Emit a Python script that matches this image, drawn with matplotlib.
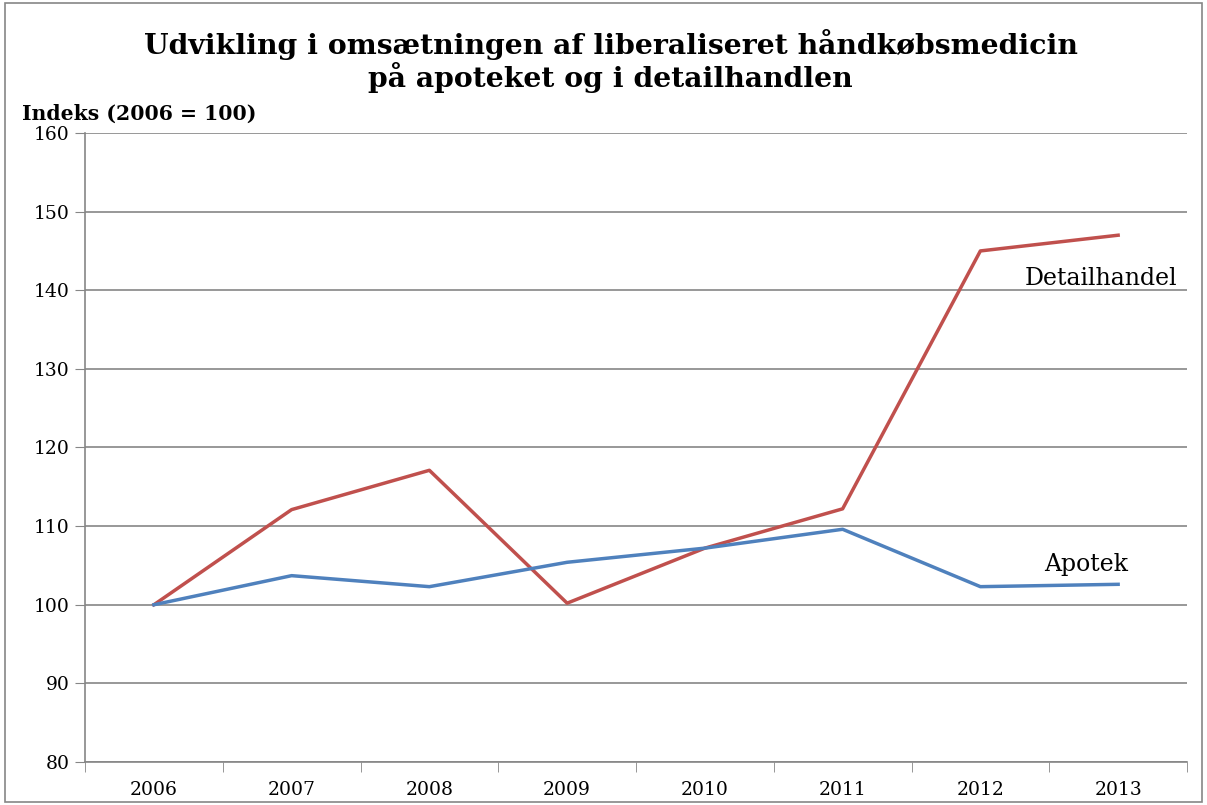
import matplotlib.pyplot as plt
from matplotlib.patches import Rectangle

years = ['2006', '2007', '2008', '2009', '2010', '2011', '2012', '2013']
detailhandel = [100, 112.1, 117.1, 100.2, 107.2, 112.2, 145.0, 147.0]
apotek = [100, 103.7, 102.3, 105.4, 107.2, 109.6, 102.3, 102.6]

plt.rcParams['font.family'] = ['DejaVu Serif']

fig = plt.figure(figsize=(12.07, 8.05), dpi=100)
ax = fig.add_axes([85 / 1207, 1 - 762 / 805, 1102 / 1207, 629 / 805])

x = range(len(years))
ax.plot(x, detailhandel, color='#C0504D', linewidth=2.5)
ax.plot(x, apotek, color='#4F81BD', linewidth=2.5)

ax.set_xlim(-0.5, len(years) - 0.5)
ax.set_ylim(80, 160)
ax.set_yticks(range(80, 161, 10))
ax.set_xticks(list(x))
ax.set_xticklabels(years)
ax.set_xticks([i - 0.5 for i in range(len(years) + 1)], minor=True)
ax.tick_params(axis='x', which='major', length=0, pad=14, labelsize=13.5)
ax.tick_params(axis='x', which='minor', length=7, color='#868686')
ax.tick_params(axis='y', length=7, color='#868686', labelsize=13.5, pad=4)
ax.grid(axis='y', color='#868686', linewidth=1.2)
for side in ['top', 'right']:
    ax.spines[side].set_visible(False)
for side in ['left', 'bottom']:
    ax.spines[side].set_color('#868686')
    ax.spines[side].set_linewidth(1.2)

ax.text(7.43, 141.5, 'Detailhandel', fontsize=17, ha='right', va='center')
ax.text(7.07, 105.1, 'Apotek', fontsize=17, ha='right', va='center')

fig.text(0.506, 1 - 61 / 805,
         'Udvikling i omsætningen af liberaliseret håndkøbsmedicin\npå apoteket og i detailhandlen',
         ha='center', va='center', fontsize=20.3, fontweight='bold', linespacing=1.1)
fig.text(22 / 1207, 1 - 114 / 805, 'Indeks (2006 = 100)', fontsize=14.7,
         fontweight='bold', va='center')

fig.patches.append(Rectangle((0.004, 0.004), 0.992, 0.992, transform=fig.transFigure,
                             fill=False, edgecolor='#868686', linewidth=1.2))

fig.savefig('out.png', dpi=100)
